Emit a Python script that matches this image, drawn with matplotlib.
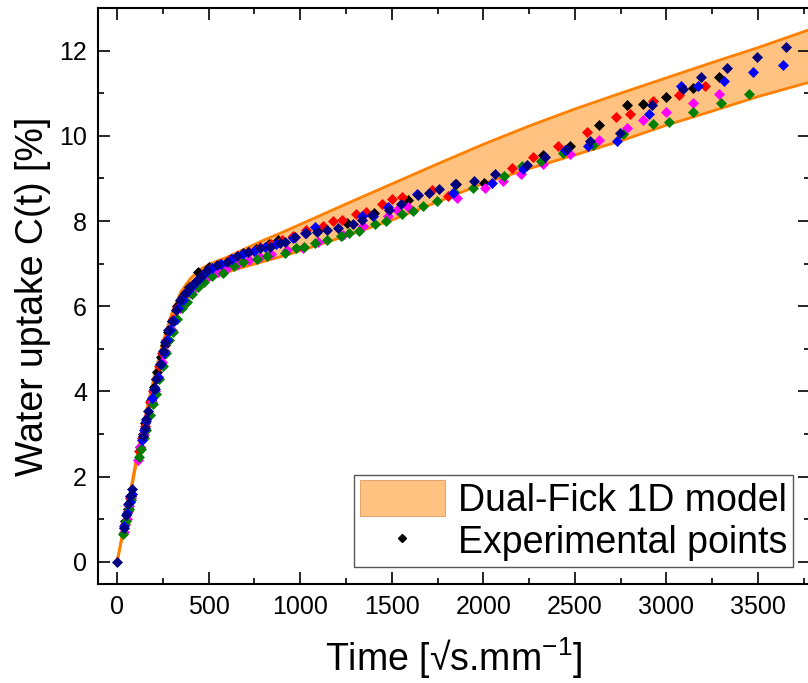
import matplotlib
matplotlib.use('Agg')
import matplotlib.pyplot as plt
from matplotlib.patches import Patch
from matplotlib.lines import Line2D
from matplotlib.ticker import MultipleLocator

plt.rcParams['font.family'] = ['Liberation Sans', 'DejaVu Sans']
plt.rcParams['mathtext.default'] = 'regular'

# Dual-Fick 1D model band (common x, lower / upper limit)
band_x = [0, 50, 100, 150, 200, 250, 300, 350, 400, 450, 500, 600, 700, 800, 900,
          1000, 1250, 1500, 1750, 2000, 2250, 2500, 2750, 3000, 3250, 3500, 3800]
band_upper = [0, 1.1, 2.3, 3.35, 4.3, 5.15, 5.85, 6.35, 6.65, 6.85, 6.98, 7.15, 7.35, 7.55, 7.73,
              7.92, 8.4, 8.87, 9.34, 9.8, 10.23, 10.63, 11.0, 11.36, 11.72, 12.07, 12.52]
band_lower = [0, 1.05, 2.2, 3.2, 4.1, 4.9, 5.55, 6.0, 6.3, 6.5, 6.62, 6.8, 6.93, 7.05, 7.17,
              7.3, 7.65, 8.02, 8.45, 8.88, 9.23, 9.55, 9.88, 10.25, 10.58, 10.92, 11.28]

# experimental points, one list of (time, uptake) per sample
black_pts = [(45, 0.95), (60, 1.25), (75, 1.55), (125, 2.70), (140, 3.00), (155, 3.25),
             (185, 3.80), (200, 4.10), (220, 4.45), (240, 4.80), (260, 5.10), (280, 5.40),
             (300, 5.65), (330, 6.00), (360, 6.25), (395, 6.45), (444, 6.81), (500, 6.92),
             (560, 7.00), (620, 7.12), (690, 7.25), (760, 7.35), (830, 7.45), (880, 7.55),
             (960, 7.62), (1100, 7.80), (1254, 7.96), (1403, 8.20), (1591, 8.50), (1851, 8.87),
             (2004, 8.89), (2324, 9.54), (2474, 9.77), (2632, 10.25), (2786, 10.73), (2874, 10.74),
             (2998, 10.91), (3143, 11.13), (3289, 11.39)]
red_pts = [(42, 0.90), (58, 1.20), (72, 1.50), (120, 2.60), (135, 2.90), (150, 3.20),
           (180, 3.75), (195, 4.00), (212, 4.30), (230, 4.60), (248, 4.90), (265, 5.20),
           (285, 5.45), (305, 5.70), (330, 5.95), (355, 6.20), (380, 6.35), (410, 6.50),
           (440, 6.62), (470, 6.75), (510, 6.88), (560, 6.98), (610, 7.08), (660, 7.18),
           (720, 7.28), (780, 7.38), (840, 7.46), (900, 7.55), (960, 7.65), (1032, 7.79),
           (1127, 7.89), (1178, 8.00), (1227, 8.03), (1305, 8.16), (1360, 8.22), (1449, 8.40),
           (1503, 8.51), (1554, 8.56), (1718, 8.73), (1809, 8.59), (2155, 9.24), (2270, 9.50),
           (2410, 9.75), (2568, 10.10), (2723, 10.45), (2801, 10.52), (2925, 10.81),
           (3071, 10.96), (3211, 11.17)]
magenta_pts = [(38, 0.70), (52, 1.00), (66, 1.30), (78, 1.50), (112, 2.40), (128, 2.70),
               (145, 3.00), (172, 3.45), (190, 3.75), (205, 4.00), (225, 4.35), (245, 4.70),
               (262, 4.95), (280, 5.20), (300, 5.45), (320, 5.70), (345, 5.95), (370, 6.10),
               (400, 6.30), (430, 6.45), (465, 6.60), (500, 6.70), (550, 6.80), (600, 6.90),
               (660, 7.00), (720, 7.08), (780, 7.15), (840, 7.22), (927, 7.32), (1017, 7.36),
               (1099, 7.50), (1236, 7.68), (1345, 7.89), (1482, 8.11), (1531, 8.26), (1591, 8.33),
               (1855, 8.54), (2009, 8.77), (2106, 8.93), (2204, 9.11), (2324, 9.34), (2474, 9.57),
               (2632, 9.91), (2786, 10.19), (2870, 10.36), (2998, 10.56), (3143, 10.77),
               (3287, 10.98)]
green_pts = [(35, 0.65), (50, 0.95), (64, 1.25), (76, 1.45), (118, 2.45), (132, 2.65),
             (148, 2.90), (160, 3.10), (178, 3.45), (195, 3.70), (210, 3.95), (230, 4.30),
             (250, 4.60), (268, 4.90), (285, 5.20), (305, 5.40), (330, 5.70), (355, 5.95),
             (380, 6.10), (410, 6.28), (440, 6.45), (475, 6.58), (520, 6.70), (581, 6.78),
             (640, 6.95), (690, 7.05), (763, 7.10), (817, 7.17), (917, 7.25), (977, 7.36),
             (1021, 7.39), (1081, 7.48), (1145, 7.56), (1223, 7.65), (1269, 7.72), (1321, 7.77),
             (1409, 7.93), (1469, 8.00), (1554, 8.17), (1615, 8.24), (1669, 8.36), (1745, 8.46),
             (1840, 8.69), (1946, 8.77), (2113, 9.06), (2210, 9.28), (2315, 9.40), (2437, 9.59),
             (2597, 9.79), (2765, 10.05), (2928, 10.28), (3016, 10.32), (3147, 10.55),
             (3298, 10.77), (3451, 10.99)]
blue_pts = [(40, 0.85), (55, 1.15), (68, 1.40), (82, 1.60), (135, 2.85), (148, 3.10),
            (158, 3.30), (190, 3.85), (205, 4.05), (222, 4.35), (240, 4.65), (255, 4.90),
            (270, 5.20), (290, 5.45), (310, 5.65), (335, 5.95), (360, 6.15), (385, 6.35),
            (415, 6.50), (445, 6.65), (480, 6.78), (520, 6.90), (570, 7.00), (630, 7.10),
            (690, 7.22), (750, 7.30), (810, 7.38), (870, 7.45), (963, 7.60), (1027, 7.72),
            (1081, 7.86), (1336, 8.12), (1396, 8.12), (1482, 8.33), (1640, 8.63), (1833, 8.65),
            (2046, 8.90), (2219, 9.22), (2446, 9.66), (2570, 9.75), (2732, 9.88), (2907, 10.51),
            (3080, 11.16), (3174, 11.18), (3314, 11.29), (3475, 11.49), (3638, 11.67)]
navy_pts = [(0, 0), (36, 0.80), (48, 1.10), (60, 1.35), (72, 1.55), (80, 1.70), (140, 2.95),
            (150, 3.15), (160, 3.35), (170, 3.55), (200, 4.05), (215, 4.30), (235, 4.65),
            (250, 4.95), (262, 5.15), (280, 5.45), (300, 5.65), (320, 5.90), (345, 6.15),
            (370, 6.30), (400, 6.45), (430, 6.60), (460, 6.72), (490, 6.85), (544, 6.97),
            (599, 7.05), (654, 7.17), (717, 7.28), (781, 7.36), (835, 7.40), (890, 7.48),
            (917, 7.50), (972, 7.62), (1032, 7.72), (1090, 7.75), (1145, 7.79), (1205, 7.83),
            (1287, 7.93), (1336, 8.03), (1391, 8.15), (1485, 8.26), (1549, 8.40), (1645, 8.61),
            (1705, 8.65), (1760, 8.75), (1846, 8.87), (1949, 8.93), (2064, 9.10), (2237, 9.32),
            (2337, 9.50), (2455, 9.69), (2583, 9.88), (2747, 10.06), (2923, 10.73), (3092, 11.10),
            (3189, 11.38), (3329, 11.59), (3493, 11.84), (3651, 12.08)]

series = [(black_pts, '#000000'), (red_pts, '#FF0000'), (magenta_pts, '#FF00FF'),
          (green_pts, '#008000'), (blue_pts, '#0000FF'), (navy_pts, '#000080')]

BAND_FILL = '#FFC280'
BAND_EDGE = '#FF8000'

fig = plt.figure(figsize=(8.08, 6.83), dpi=100)
ax = fig.add_axes([0.1213, 0.1449, 0.8812, 0.8434])

# model band
ax.fill_between(band_x, band_lower, band_upper, color=BAND_FILL, lw=0, zorder=1)
ax.plot(band_x, band_upper, color=BAND_EDGE, lw=2, zorder=2)
ax.plot(band_x, band_lower, color=BAND_EDGE, lw=2, zorder=2)

# experimental points
for pts, col in series:
    xs = [p[0] for p in pts]
    ys = [p[1] for p in pts]
    ax.plot(xs, ys, ls='none', marker='D', ms=5.5, color=col, mec=col, mew=0.5, zorder=3)

ax.set_xlim(-104, 3784)
ax.set_ylim(-0.52, 13.0)
ax.xaxis.set_major_locator(MultipleLocator(500))
ax.xaxis.set_minor_locator(MultipleLocator(250))
ax.yaxis.set_major_locator(MultipleLocator(2))
ax.yaxis.set_minor_locator(MultipleLocator(1))
ax.tick_params(which='both', direction='in', top=True, right=True, labelsize=18, pad=8)
ax.tick_params(which='major', length=8.5, width=1.2)
ax.tick_params(which='minor', length=4.5, width=1.2)
for sp in ax.spines.values():
    sp.set_linewidth(1.5)

ax.set_xlabel('Time [\u221as.mm$^{-1}$]', fontsize=27, labelpad=12)
ax.set_ylabel('Water uptake C(t) [%]', fontsize=27, labelpad=6)

handles = [Patch(facecolor=BAND_FILL, edgecolor='#E0A870', lw=0.8),
           Line2D([], [], ls='none', marker='D', ms=4.5, color='black')]
leg = ax.legend(handles, ['Dual-Fick 1D model', 'Experimental points'],
                loc='lower right', bbox_to_anchor=(0.976, 0.0295), borderaxespad=0,
                fontsize=27, fancybox=False, framealpha=1, edgecolor='#555555',
                handlelength=2.27, handleheight=1.1, handletextpad=0.35,
                labelspacing=0.1, borderpad=0.15)
leg.get_frame().set_linewidth(1.0)

fig.savefig('out.png', dpi=100)
